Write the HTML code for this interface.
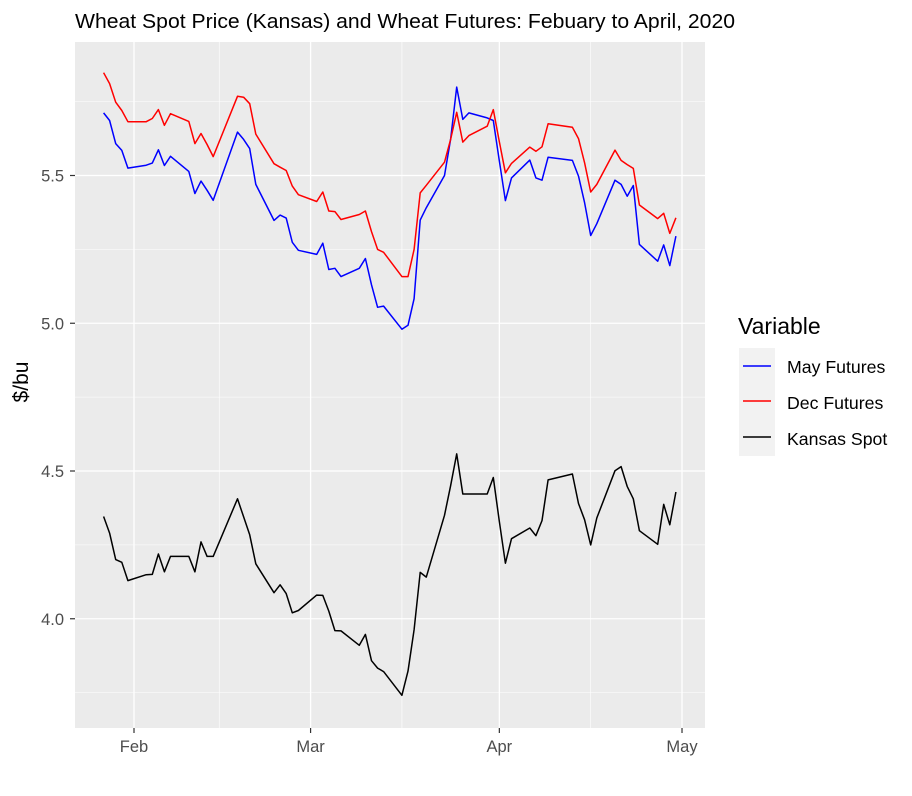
<!DOCTYPE html>
<html><head><meta charset="utf-8"><style>
body{margin:0;background:#fff;}
svg{display:block;font-family:"Liberation Sans",sans-serif;}
</style></head><body>
<svg width="912" height="796" xmlns="http://www.w3.org/2000/svg">
<text x="75" y="28" font-size="20.5" fill="#000" textLength="660" lengthAdjust="spacingAndGlyphs">Wheat Spot Price (Kansas) and Wheat Futures: Febuary to April, 2020</text>
<rect x="75" y="42" width="630" height="686" fill="#EBEBEB"/>
<g id="grid"></g>
<g id="series"></g>
<g id="axes"></g>
<text transform="translate(28,382) rotate(-90)" text-anchor="middle" font-size="21" fill="#000">$/bu</text>
<g>
<text x="738" y="334" font-size="23" fill="#000">Variable</text>
<rect x="739" y="348" width="36" height="108" fill="#F2F2F2"/>
<g><line x1="743" x2="771" y1="366" y2="366" stroke="#0000FF" stroke-width="1.5"/><text x="787" y="373" font-size="17.7" fill="#000">May Futures</text></g>
<g><line x1="743" x2="771" y1="401" y2="401" stroke="#FF0000" stroke-width="1.5"/><text x="787" y="409" font-size="17.7" fill="#000">Dec Futures</text></g>
<g><line x1="743" x2="771" y1="437" y2="437" stroke="#000" stroke-width="1.5"/><text x="787" y="445" font-size="17.7" fill="#000">Kansas Spot</text></g>
</g>
</svg>
<script>
const dates=["01-27","01-28","01-29","01-30","01-31","02-03","02-04","02-05","02-06","02-07","02-10","02-11","02-12","02-13","02-14","02-18","02-19","02-20","02-21","02-24","02-25","02-26","02-27","02-28","03-02","03-03","03-04","03-05","03-06","03-09","03-10","03-11","03-12","03-13","03-16","03-17","03-18","03-19","03-20","03-23","03-24","03-25","03-26","03-27","03-30","03-31","04-01","04-02","04-03","04-06","04-07","04-08","04-09","04-13","04-14","04-15","04-16","04-17","04-20","04-21","04-22","04-23","04-24","04-27","04-28","04-29","04-30"];
const mayFutures=[5.712,5.686,5.608,5.585,5.525,5.535,5.542,5.587,5.534,5.565,5.514,5.439,5.481,5.450,5.416,5.647,5.622,5.591,5.470,5.348,5.366,5.356,5.274,5.247,5.233,5.271,5.182,5.186,5.158,5.186,5.219,5.130,5.054,5.058,4.980,4.993,5.083,5.349,5.391,5.500,5.622,5.799,5.690,5.712,5.695,5.686,5.550,5.415,5.492,5.552,5.492,5.484,5.562,5.551,5.498,5.408,5.297,5.337,5.484,5.470,5.430,5.466,5.267,5.210,5.265,5.195,5.295];
const decFutures=[5.848,5.811,5.748,5.720,5.682,5.682,5.693,5.723,5.670,5.709,5.683,5.608,5.642,5.605,5.564,5.768,5.765,5.743,5.640,5.540,5.528,5.517,5.464,5.435,5.412,5.444,5.380,5.378,5.351,5.368,5.380,5.310,5.250,5.240,5.158,5.158,5.250,5.441,5.467,5.545,5.622,5.714,5.613,5.635,5.667,5.723,5.615,5.509,5.541,5.596,5.582,5.597,5.675,5.663,5.625,5.543,5.444,5.470,5.586,5.551,5.537,5.524,5.400,5.354,5.372,5.304,5.357];
const kansasSpot=[4.346,4.290,4.200,4.191,4.129,4.149,4.150,4.219,4.159,4.211,4.211,4.159,4.260,4.211,4.211,4.406,4.345,4.284,4.186,4.088,4.115,4.085,4.020,4.028,4.080,4.079,4.026,3.960,3.959,3.910,3.947,3.858,3.833,3.821,3.741,3.823,3.963,4.157,4.141,4.350,4.450,4.558,4.422,4.422,4.422,4.478,4.330,4.188,4.271,4.307,4.281,4.332,4.470,4.490,4.390,4.335,4.250,4.341,4.501,4.515,4.448,4.406,4.298,4.252,4.387,4.318,4.429];
const yTicks=[4.0,4.5,5.0,5.5];
const yMinor=[3.75,4.25,4.75,5.25,5.75];
const xTickLabels=["Feb","Mar","Apr","May"];
const xTickDates=["02-01","03-01","04-01","05-01"];
const xMinorDates=["02-15","03-16","04-16"];

const NS="http://www.w3.org/2000/svg";
function dayNum(s){const t=Date.UTC(2020,+s.slice(0,2)-1,+s.slice(3));return (t-Date.UTC(2020,1,1))/864e5;}
function xScale(s){return 134+dayNum(s)*6.089;}
function yScale(v){return 175.5-(v-5.5)*295.5;}
function mk(tag,attrs,parent){const e=document.createElementNS(NS,tag);for(const k in attrs)e.setAttribute(k,attrs[k]);parent.appendChild(e);return e;}
const grid=document.getElementById('grid'),axes=document.getElementById('axes'),series=document.getElementById('series');
yMinor.forEach(v=>{const l=mk('line',{x1:75,x2:705,y1:yScale(v),y2:yScale(v),stroke:'#fff','stroke-width':0.6},grid);

});
xMinorDates.forEach(d=>{const l=mk('line',{x1:xScale(d),x2:xScale(d),y1:42,y2:728,stroke:'#fff','stroke-width':0.6},grid);

});
yTicks.forEach(v=>{const y=yScale(v);const l=mk('line',{x1:75,x2:705,y1:y,y2:y,stroke:'#fff','stroke-width':1.3},grid);


const t=mk('line',{x1:70,x2:75,y1:y,y2:y,stroke:'#333','stroke-width':1.2},axes);


const tx=mk('text',{x:64,y:y+6,'text-anchor':'end','font-size':16.5,fill:'#4D4D4D'},axes);tx.textContent=v.toFixed(1);

});
xTickDates.forEach((d,i)=>{const x=xScale(d);const l=mk('line',{x1:x,x2:x,y1:42,y2:728,stroke:'#fff','stroke-width':1.3},grid);


const t=mk('line',{x1:x,x2:x,y1:728,y2:733,stroke:'#333','stroke-width':1.2},axes);


const tx=mk('text',{x:x,y:752,'text-anchor':'middle','font-size':16.5,fill:'#4D4D4D'},axes);tx.textContent=xTickLabels[i];

});
function drawLine(vals,color,name){const pts=[];vals.forEach((v,i)=>{if(v!=null)pts.push(xScale(dates[i]).toFixed(1)+','+yScale(v).toFixed(1));});
const p=mk('polyline',{points:pts.join(' '),fill:'none',stroke:color,'stroke-width':1.5,'stroke-linejoin':'round'},series);

}
drawLine(mayFutures,'#0000FF','may-futures-line');
drawLine(decFutures,'#FF0000','dec-futures-line');
drawLine(kansasSpot,'#000000','kansas-spot-line');
</script>
</body></html>
